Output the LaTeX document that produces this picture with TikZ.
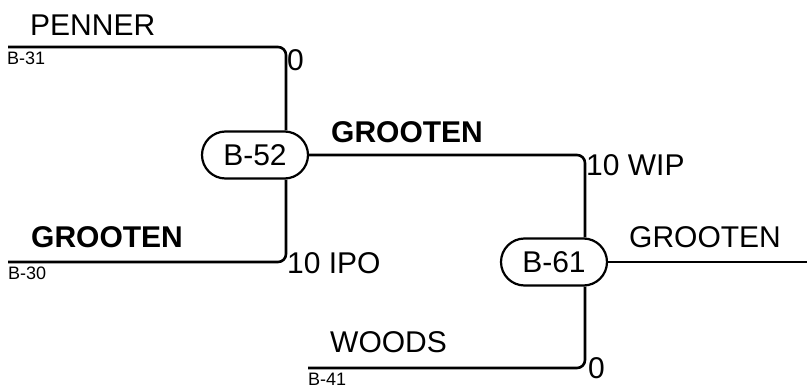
\documentclass[tikz,border=0pt]{standalone}
\usepackage{fontspec}
\setmainfont{Liberation Sans}
\usetikzlibrary{positioning}

\begin{document}
\begin{tikzpicture}[x=1pt, y=-1pt,
	game/.style={draw, line width=2.2pt, fill=white, rounded corners=23.5pt, minimum width=106pt, minimum height=47pt, inner sep=0pt, font=\fontsize{30}{30}\selectfont},
	wire/.style={line width=2.6pt, rounded corners=8pt},
	team/.style={anchor=base west, inner sep=0pt, font=\fontsize{30}{30}\selectfont},
	seed/.style={anchor=base west, inner sep=0pt, font=\fontsize{18}{18}\selectfont},
	score/.style={anchor=base west, inner sep=0pt, font=\fontsize{30}{30}\selectfont}]
	\useasboundingbox (0,0) rectangle (807,388);
	%games
	\node[game] (b52) at (255,155) {B-52};
	\node[game] (b61) at (554,262) {B-61};
	%line ends and joints
	\coordinate (s31) at (8,47);
	\coordinate (s30) at (8,262);
	\coordinate (s41) at (308,368);
	\coordinate (win) at (807,262);
	\coordinate (j52) at (286,155);
	\coordinate (j61) at (585,262);
	%bracket lines
	\draw[wire] (s31) -| (b52.north -| j52);
	\draw[wire] (b52.south -| j52) |- (s30);
	\draw[wire] (b52.east) -| (b61.north -| j61);
	\draw[wire] (b61.south -| j61) |- (s41);
	\draw[wire] (b61.east) -- (win);
	%teams
	\node[team] (penner) at (30,35) {PENNER};
	\node[team, font=\fontsize{30}{30}\selectfont\bfseries] (grooten30) at (31,247) {GROOTEN};
	\node[team, font=\fontsize{30}{30}\selectfont\bfseries] (grooten52) at (331,142) {GROOTEN};
	\node[team] (woods) at (330,352) {WOODS};
	\node[team] (grooten61) at (629,247) {GROOTEN};
	%seeds
	\node[seed] (l31) at (7,64) {B-31};
	\node[seed] (l30) at (8,279) {B-30};
	\node[seed] (l41) at (308,385) {B-41};
	%scores
	\node[score] (sc31) at (287,70) {0};
	\node[score] (sc30) at (287,273) {10 IPO};
	\node[score] (sc52) at (586,175) {10 WIP};
	\node[score] (sc41) at (588,378) {0};
\end{tikzpicture}
\end{document}
